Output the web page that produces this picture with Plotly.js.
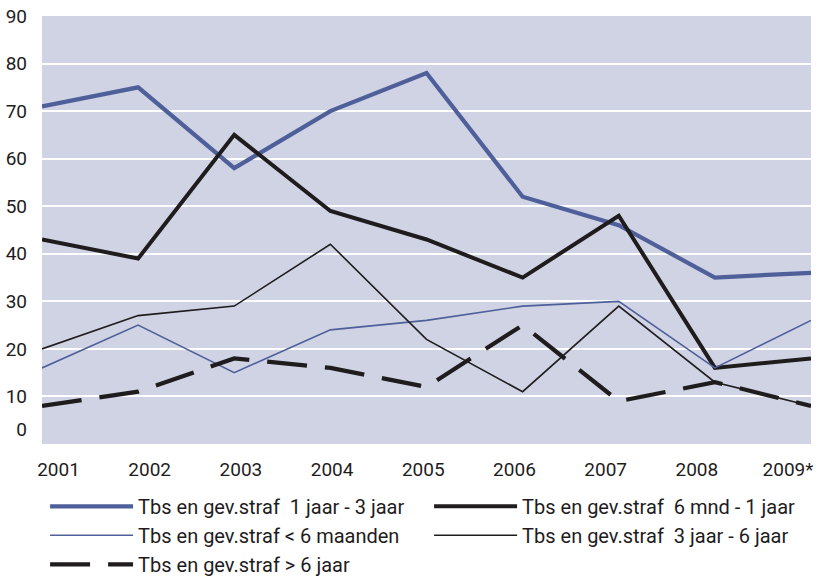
<!DOCTYPE html>
<html>
<head>
<meta charset="utf-8">
<script src="https://cdn.plot.ly/plotly-3.0.1.min.js"></script>
<style>html,body{margin:0;padding:0;background:#fff;}#chart{width:818px;height:578px;}</style>
</head>
<body>
<div id="chart"></div>
<script>
var years = ["2001","2002","2003","2004","2005","2006","2007","2008","2009*"];
var names = [
  "Tbs en gev.straf\u00a0 1 jaar - 3 jaar",
  "Tbs en gev.straf\u00a0 6 mnd - 1 jaar",
  "Tbs en gev.straf < 6 maanden",
  "Tbs en gev.straf\u00a0 3 jaar - 6 jaar",
  "Tbs en gev.straf > 6 jaar"
];
var jaar1tot3 = [71, 75, 58, 70, 78, 52, 46, 35, 36];
var mnd6tot1jaar = [43, 39, 65, 49, 43, 35, 48, 16, 18];
var minder6mnd = [16, 25, 15, 24, 26, 29, 30, 16, 26];
var jaar3tot6 = [20, 27, 29, 42, 22, 11, 29, 13, 8];
var meer6jaar = [8, 11, 18, 16, 12, 25, 9, 13, 8];
var yTicks = [10,20,30,40,50,60,70,80,90];
var yTickZero = [0];

var blue = "#4e5f99";
var dark = "#1f1c1d";
var font = "Roboto, 'Liberation Sans', Arial, sans-serif";
var idx = years.map(function(_, i){ return i; });

var traces = [
  {x: years, y: jaar1tot3, name: names[0], line: {color: blue, width: 4.2}},
  {x: years, y: mnd6tot1jaar, name: names[1], line: {color: dark, width: 4}},
  {x: years, y: minder6mnd, name: names[2], line: {color: blue, width: 1.6}},
  {x: years, y: jaar3tot6, name: names[3], line: {color: dark, width: 1.6}},
  {x: years, y: meer6jaar, name: names[4], line: {color: dark, width: 4.2, dash: "40px,18px"}}
].map(function(t){ t.type = "scatter"; t.mode = "lines"; t.hoverinfo = "skip"; return t; });

// invisible helper traces so the label-only axes are drawn
traces.push({type: "scatter", mode: "lines", x: idx, y: jaar1tot3, xaxis: "x2", yaxis: "y",
  opacity: 0, showlegend: false, hoverinfo: "skip", line: {width: 0}});
traces.push({type: "scatter", mode: "lines", x: years, y: jaar1tot3, xaxis: "x", yaxis: "y2",
  opacity: 0, showlegend: false, hoverinfo: "skip", line: {width: 0}});

var layout = {
  width: 818, height: 578,
  margin: {l: 42, r: 7, t: 16, b: 133.5, pad: 0, autoexpand: false},
  paper_bgcolor: "#ffffff",
  plot_bgcolor: "#cfd3e4",
  font: {family: font, size: 19, color: dark},
  showlegend: true,
  legend: {
    orientation: "h", x: 0.004, xanchor: "left", y: -0.1, yanchor: "top",
    entrywidth: 286, itemwidth: 83, font: {family: font, size: 20, color: dark},
    bgcolor: "rgba(0,0,0,0)", borderwidth: 0
  },
  xaxis: {
    type: "category", range: [0, 8], showgrid: false, zeroline: false,
    showline: false, ticks: "", showticklabels: false, fixedrange: true
  },
  xaxis2: {
    type: "linear", overlaying: "x", anchor: "y", side: "bottom",
    range: [-0.181, 8.252], tickvals: idx, ticktext: years,
    showgrid: false, zeroline: false, showline: false, ticks: "",
    tickfont: {family: font, size: 19, color: dark}, ticklabelstandoff: 12, fixedrange: true
  },
  yaxis: {
    range: [0, 90], tickvals: yTicks, showgrid: true, gridcolor: "#ffffff", gridwidth: 2,
    zeroline: false, showline: false, ticks: "", tickfont: {family: font, size: 19, color: dark},
    ticklabelstandoff: 14, fixedrange: true
  },
  yaxis2: {
    range: [-3, 87], overlaying: "y", anchor: "x", side: "left", tickvals: yTickZero,
    showgrid: false, zeroline: false, showline: false, ticks: "",
    tickfont: {family: font, size: 19, color: dark}, ticklabelstandoff: 14, fixedrange: true
  }
};

Plotly.newPlot("chart", traces, layout, {displayModeBar: false, staticPlot: true});
</script>
</body>
</html>
